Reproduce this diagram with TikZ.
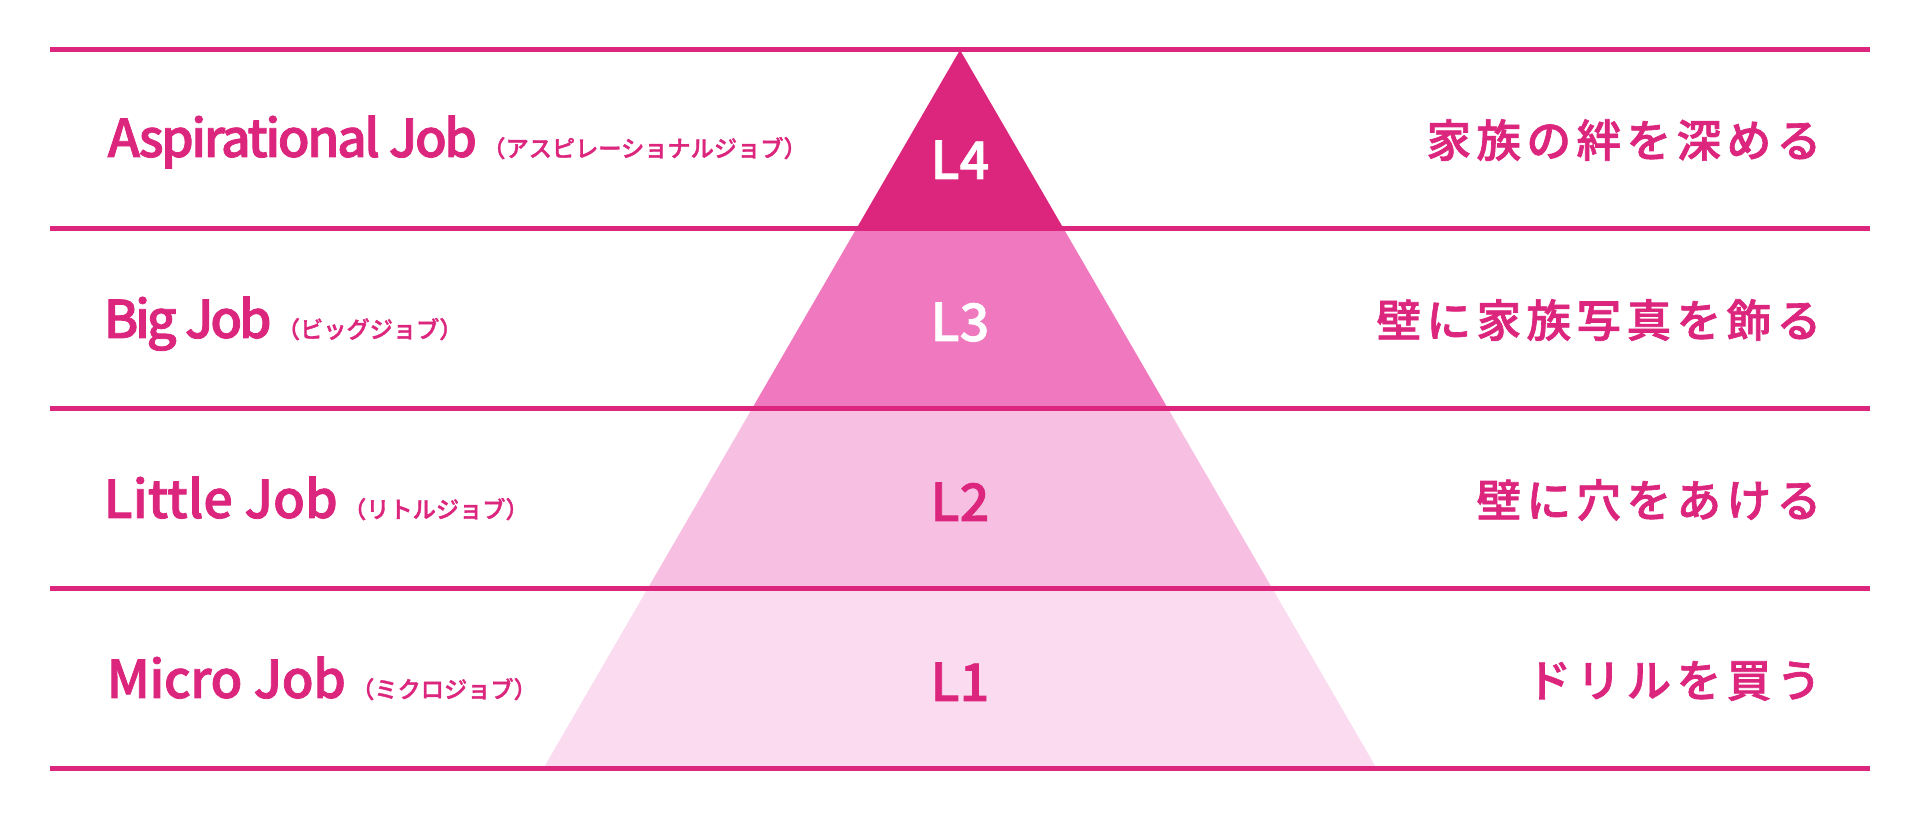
\documentclass[tikz,border=0pt]{standalone}
\usepackage{fontspec}
\IfFontExistsTF{Noto Sans CJK JP Medium}
  {\setmainfont{Noto Sans CJK JP Medium}[FakeBold=1.5]
   \newfontfamily\taskfont{Noto Sans CJK JP Medium}[LetterSpace=12, FakeBold=1.5]}
  {\setmainfont{Noto Sans CJK JP}[FakeBold=4]
   \newfontfamily\taskfont{Noto Sans CJK JP}[LetterSpace=12, FakeBold=4]}
\usepackage{tikz}

\definecolor{jobpink}{RGB}{220,38,125}
\definecolor{levelthree}{RGB}{240,120,190}
\definecolor{leveltwo}{RGB}{247,191,226}
\definecolor{levelone}{RGB}{250,219,239}

\newcommand{\jobkana}{\hspace{1.5pt}\fontsize{6.6pt}{8pt}\selectfont}
\newcommand{\jobtrack}[2]{{\addfontfeature{LetterSpace=#1}#2}}

\tikzset{
  rule/.style={draw=jobpink, line width=1.42pt},
  joblabel/.style={anchor=base west, inner sep=0pt, text=jobpink, font=\fontsize{14.8pt}{17pt}\selectfont},
  tasklabel/.style={anchor=base east, inner sep=0pt, text=jobpink, font=\taskfont\fontsize{12.7pt}{15pt}\selectfont},
  levellabel/.style={anchor=base, inner sep=0pt, font=\fontsize{14.8pt}{17pt}\selectfont}
}

\begin{document}
\begin{tikzpicture}[x=0.01cm, y=-0.01cm]
        \useasboundingbox (0,0) rectangle (1920,822);

        % Pyramid
        \fill[jobpink] (960,50) -- (1063.8,229) -- (856.2,229) -- cycle;
        \fill[levelthree] (856.2,229) -- (1063.8,229) -- (1168.2,409) -- (751.8,409) -- cycle;
        \fill[leveltwo] (751.8,409) -- (1168.2,409) -- (1272.6,589) -- (647.4,589) -- cycle;
        \fill[levelone] (647.4,589) -- (1272.6,589) -- (1377,769) -- (543,769) -- cycle;

        % Rules
        \coordinate (r0w) at (50,50);  \coordinate (r0e) at (1870,50);
        \coordinate (r1w) at (50,229); \coordinate (r1e) at (1870,229);
        \coordinate (r2w) at (50,409); \coordinate (r2e) at (1870,409);
        \coordinate (r3w) at (50,589); \coordinate (r3e) at (1870,589);
        \coordinate (r4w) at (50,769); \coordinate (r4e) at (1870,769);

        \draw[rule] (r0w) -- (r0e);
        \draw[rule] (r1w) -- (r1e);
        \draw[rule] (r2w) -- (r2e);
        \draw[rule] (r3w) -- (r3e);
        \draw[rule] (r4w) -- (r4e);

        % Levels
        \node[levellabel, text=white] (l4) at (960,179) {L4};
        \node[levellabel, text=white] (l3) at (960,341) {L3};
        \node[levellabel, text=jobpink] (l2) at (960,521) {L2};
        \node[levellabel, text=jobpink] (l1) at (960,701) {L1};

        % Jobs
        \node[joblabel] (aspirational) at (107,157) {\jobtrack{-5}{Aspirational Job}{\jobkana（アスピレーショナルジョブ）}};
        \node[joblabel] (big) at (103,338) {\jobtrack{-6.5}{Big Job}{\jobkana（ビッグジョブ）}};
        \node[joblabel] (little) at (103,518) {Little Job{\jobkana（リトルジョブ）}};
        \node[joblabel] (micro) at (106,698) {\jobtrack{-1}{Micro Job}{\jobkana（ミクロジョブ）}};

        % Tasks
        \node[tasklabel] (bond) at (1822,157) {家族の絆を深める};
        \node[tasklabel] (photo) at (1822,337) {壁に家族写真を飾る};
        \node[tasklabel] (hole) at (1822,517) {壁に穴をあける};
        \node[tasklabel] (drill) at (1822,697) {ドリルを買う};

\end{tikzpicture}
\end{document}
